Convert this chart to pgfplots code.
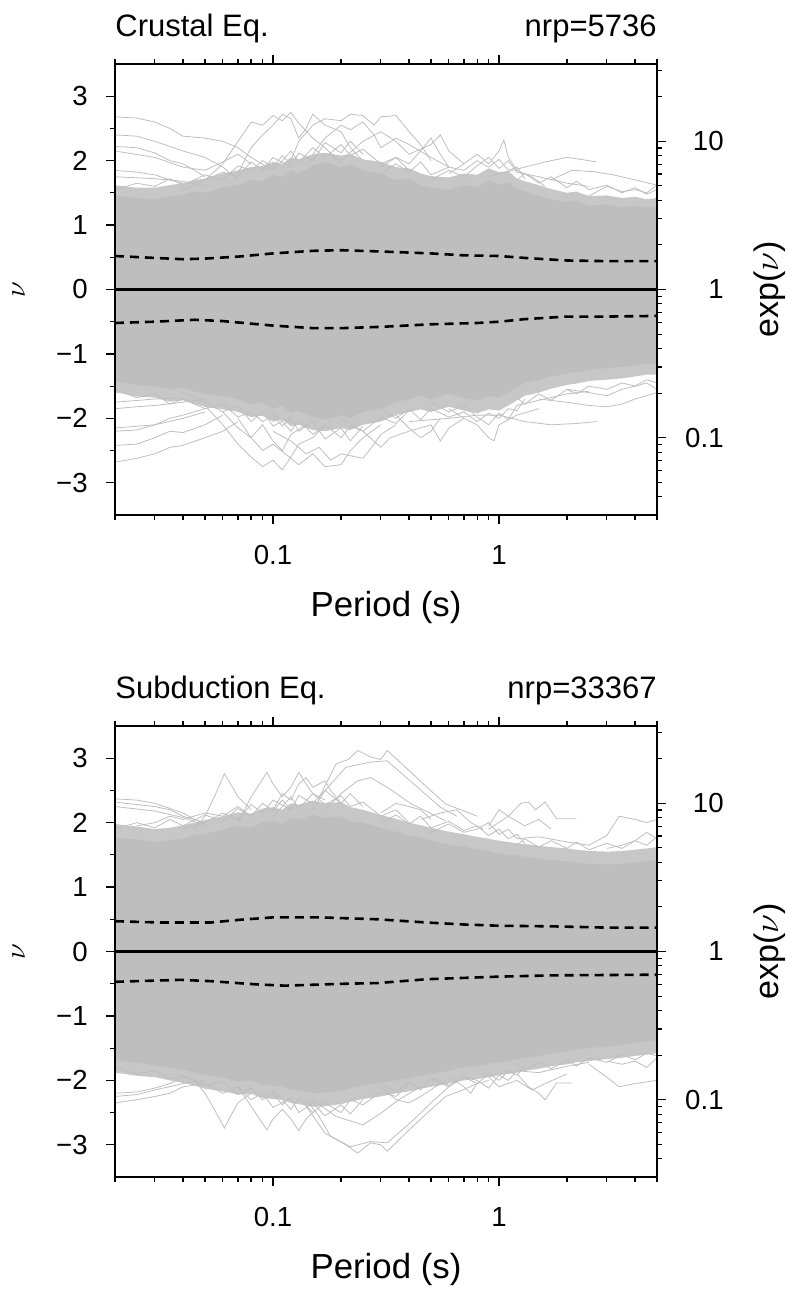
\documentclass[border=0pt]{standalone}
\usepackage{fontspec}
\setmainfont{Liberation Sans}
\usepackage{pgfplots}
\usepackage{pgfplotstable}
\pgfplotsset{compat=1.18}
\definecolor{lg}{RGB}{190,190,190}
\definecolor{fr}{RGB}{199,199,199}

\pgfplotstableread{
x cu cl fu fl
0.02 1.46 -1.42 1.62 -1.60
0.022 1.44 -1.45 1.60 -1.62
0.025 1.42 -1.48 1.58 -1.66
0.03 1.40 -1.50 1.58 -1.68
0.035 1.45 -1.55 1.62 -1.74
0.04 1.47 -1.52 1.65 -1.72
0.045 1.52 -1.58 1.70 -1.78
0.05 1.50 -1.62 1.72 -1.82
0.06 1.58 -1.65 1.80 -1.86
0.07 1.62 -1.70 1.85 -1.90
0.08 1.70 -1.78 1.90 -1.98
0.09 1.68 -1.75 1.92 -1.96
0.1 1.78 -1.85 1.98 -2.05
0.11 1.74 -1.80 1.95 -2.02
0.12 1.85 -1.92 2.05 -2.12
0.13 1.80 -1.88 2.02 -2.10
0.15 1.92 -1.98 2.10 -2.18
0.17 1.98 -2.02 2.12 -2.20
0.2 1.90 -1.95 2.08 -2.15
0.22 1.95 -2.00 2.10 -2.18
0.25 1.85 -1.90 2.02 -2.10
0.3 1.80 -1.85 1.98 -2.05
0.35 1.70 -1.75 1.90 -1.95
0.4 1.72 -1.70 1.88 -1.90
0.45 1.62 -1.65 1.80 -1.86
0.5 1.58 -1.70 1.76 -1.90
0.6 1.55 -1.62 1.74 -1.82
0.7 1.62 -1.68 1.80 -1.88
0.8 1.58 -1.72 1.78 -1.92
0.9 1.70 -1.65 1.88 -1.86
1 1.62 -1.68 1.82 -1.88
1.1 1.66 -1.60 1.84 -1.80
1.2 1.55 -1.52 1.72 -1.72
1.3 1.52 -1.45 1.68 -1.65
1.5 1.45 -1.40 1.62 -1.60
1.7 1.40 -1.35 1.56 -1.54
2 1.35 -1.30 1.50 -1.48
2.2 1.38 -1.28 1.52 -1.46
2.5 1.30 -1.25 1.45 -1.42
3 1.32 -1.22 1.46 -1.40
3.5 1.28 -1.20 1.42 -1.38
4 1.30 -1.18 1.44 -1.35
4.5 1.27 -1.15 1.40 -1.32
5 1.30 -1.15 1.42 -1.32
}\topT

\pgfplotstableread{
x cu cl fu fl
0.02 1.78 -1.68 1.98 -1.88
0.022 1.75 -1.71 1.96 -1.90
0.025 1.74 -1.72 1.94 -1.93
0.03 1.70 -1.76 1.90 -1.95
0.035 1.73 -1.80 1.92 -2.00
0.04 1.75 -1.84 1.96 -2.04
0.045 1.81 -1.88 2.00 -2.08
0.05 1.82 -1.92 2.04 -2.13
0.06 1.89 -1.96 2.10 -2.17
0.07 1.95 -2.02 2.16 -2.22
0.08 1.92 -2.00 2.14 -2.21
0.09 2.01 -2.06 2.22 -2.27
0.1 2.02 -2.08 2.24 -2.29
0.11 1.98 -2.10 2.20 -2.30
0.12 2.08 -2.14 2.30 -2.35
0.13 2.05 -2.16 2.28 -2.37
0.15 2.12 -2.20 2.34 -2.41
0.17 2.07 -2.19 2.30 -2.40
0.2 2.10 -2.16 2.32 -2.37
0.22 2.02 -2.12 2.24 -2.33
0.25 2.00 -2.08 2.20 -2.29
0.3 1.92 -2.04 2.12 -2.25
0.35 1.86 -2.00 2.06 -2.20
0.4 1.80 -1.97 2.00 -2.17
0.45 1.77 -1.93 1.96 -2.13
0.5 1.72 -1.90 1.92 -2.10
0.6 1.66 -1.85 1.86 -2.05
0.7 1.63 -1.80 1.82 -2.00
0.8 1.58 -1.78 1.78 -1.98
0.9 1.56 -1.74 1.75 -1.95
1 1.52 -1.72 1.72 -1.92
1.1 1.50 -1.70 1.70 -1.90
1.2 1.49 -1.67 1.68 -1.88
1.3 1.47 -1.65 1.67 -1.85
1.5 1.44 -1.62 1.64 -1.82
1.7 1.42 -1.58 1.62 -1.78
2 1.40 -1.55 1.60 -1.75
2.2 1.38 -1.52 1.58 -1.72
2.5 1.36 -1.50 1.56 -1.70
3 1.35 -1.47 1.55 -1.67
3.5 1.36 -1.45 1.56 -1.65
4 1.38 -1.42 1.58 -1.62
4.5 1.40 -1.40 1.60 -1.60
5 1.42 -1.38 1.62 -1.58
}\botT

\newcommand{\tf}{\fontsize{13.8}{16}\selectfont}
\tikzset{
  grayline/.style={lg, line width=0.4pt},
  zeroline/.style={black, line width=1.3pt},
  dashline/.style={black, line width=1.3pt, dash pattern=on 4.5pt off 3pt},
}

\begin{document}
\begin{tikzpicture}
\useasboundingbox (0,0) rectangle (394pt,645pt);

% ---------------- top panel ----------------
\begin{axis}[
    at={(57.5pt,387.5pt)}, anchor=south west,
    scale only axis, width=271pt, height=225.5pt,
    xmode=log, xmin=0.02, xmax=5, ymin=-3.5, ymax=3.5,
    xtick={0.1,1}, xticklabels={{\tf 0.1},{\tf 1}},
    minor xtick={0.02,0.03,0.04,0.05,0.06,0.07,0.08,0.09,0.2,0.3,0.4,0.5,0.6,0.7,0.8,0.9,2,3,4,5},
    ytick={-3,-2,-1,0,1,2,3}, yticklabels={{\tf −3},{\tf −2},{\tf −1},{\tf 0},{\tf 1},{\tf 2},{\tf 3}},
    minor ytick={-2.5,-1.5,-0.5,0.5,1.5,2.5},
    xtick pos=both, ytick pos=left,
    tick align=outside,
    major tick length=4.5pt, minor tick length=2.5pt,
    tick style={black, line width=0.6pt},
    axis line style={line width=0.6pt},
    xticklabel style={anchor=north, inner sep=0pt, yshift=-10.5pt},
    yticklabel style={anchor=east, inner sep=0pt, xshift=-9pt},
    axis on top,
  ]
\addplot[draw=none, fill=fr] table[x=x,y=fu]{\topT} \closedcycle;
\addplot[draw=none, fill=lg] table[x=x,y=cu]{\topT} \closedcycle;
\addplot[draw=none, fill=fr] table[x=x,y=fl]{\topT} \closedcycle;
\addplot[draw=none, fill=lg] table[x=x,y=cl]{\topT} \closedcycle;
% fringe lines, upper
\addplot[grayline] coordinates {(0.02,1.55)(0.025,1.65)(0.03,1.6)(0.035,1.72)(0.04,1.62)(0.05,1.78)(0.06,1.7)(0.07,1.92)(0.08,1.85)(0.09,2.0)(0.1,1.9)(0.11,2.08)(0.12,1.95)};
\addplot[grayline] coordinates {(0.1,1.85)(0.11,2.0)(0.12,2.15)(0.13,1.98)(0.15,2.2)(0.17,2.05)(0.2,2.25)(0.22,2.08)(0.25,2.18)(0.3,1.95)(0.35,2.05)(0.4,1.85)};
\addplot[grayline] coordinates {(0.3,1.8)(0.35,1.95)(0.4,1.82)(0.45,1.98)(0.5,1.78)(0.6,1.9)(0.7,1.85)(0.8,2.0)(0.9,1.9)(1,2.02)(1.1,1.85)(1.2,1.9)(1.3,1.72)};
\addplot[grayline] coordinates {(1.2,1.7)(1.3,1.8)(1.5,1.65)(1.7,1.75)(2,1.58)(2.2,1.68)(2.5,1.55)(3,1.62)(3.5,1.5)(4,1.58)(4.5,1.48)(5,1.55)};
\addplot[grayline] coordinates {(0.04,1.55)(0.05,1.7)(0.06,1.82)(0.07,1.75)(0.08,1.98)(0.09,1.85)(0.1,2.05)(0.12,1.9)(0.13,2.12)(0.15,2.0)(0.17,2.28)(0.2,2.12)(0.22,2.3)(0.25,2.1)};
\addplot[grayline] coordinates {(0.5,1.7)(0.6,1.85)(0.7,1.75)(0.8,1.92)(0.9,2.05)(1,1.88)(1.1,2.0)(1.2,1.82)(1.5,1.75)(2,1.65)(2.5,1.6)};
% upper outliers
\addplot[grayline] coordinates {(0.02,2.68)(0.025,2.66)(0.03,2.6)(0.035,2.5)(0.04,2.38)(0.05,2.35)(0.06,2.30)(0.07,2.2)(0.08,2.05)(0.1,1.85)};
\addplot[grayline] coordinates {(0.02,2.40)(0.025,2.38)(0.03,2.3)(0.04,2.15)(0.05,2.05)(0.06,1.9)(0.07,1.7)};
\addplot[grayline] coordinates {(0.02,2.22)(0.025,2.2)(0.03,2.12)(0.035,2.0)(0.04,1.95)(0.045,1.85)(0.05,1.75)};
\addplot[grayline] coordinates {(0.02,2.15)(0.03,2.05)(0.04,1.9)(0.05,1.85)(0.06,1.98)(0.07,2.1)(0.08,1.95)};
\addplot[grayline] coordinates {(0.05,1.7)(0.06,1.95)(0.07,2.3)(0.075,2.45)(0.08,2.6)(0.09,2.55)(0.1,2.7)(0.11,2.62)(0.12,2.75)(0.13,2.58)(0.15,2.35)(0.17,2.2)(0.2,1.95)};
\addplot[grayline] coordinates {(0.07,1.8)(0.08,2.2)(0.09,2.4)(0.1,2.55)(0.11,2.72)(0.12,2.65)(0.13,2.35)(0.14,2.5)(0.15,2.72)(0.17,2.55)(0.2,2.45)(0.22,2.2)(0.25,2.0)};
\addplot[grayline] coordinates {(0.12,2.0)(0.13,2.3)(0.15,2.55)(0.17,2.65)(0.2,2.62)(0.22,2.72)(0.25,2.70)(0.28,2.55)(0.3,2.68)(0.35,2.7)(0.4,2.45)(0.45,2.25)(0.5,2.0)};
\addplot[grayline] coordinates {(0.15,2.1)(0.17,2.35)(0.2,2.55)(0.22,2.48)(0.25,2.6)(0.28,2.4)(0.3,2.2)(0.35,2.35)(0.4,2.25)(0.5,2.05)(0.6,1.9)};
\addplot[grayline] coordinates {(0.2,2.0)(0.25,2.3)(0.3,2.45)(0.35,2.3)(0.4,2.1)(0.5,2.25)(0.55,2.4)(0.6,2.15)(0.7,1.95)};
\addplot[grayline] coordinates {(0.6,1.8)(0.7,1.95)(0.8,2.1)(0.9,1.95)(1,2.15)(1.05,2.32)(1.1,2.05)(1.2,1.85)(1.4,1.75)(1.6,1.6)};
\addplot[grayline] coordinates {(0.9,1.75)(1.3,1.9)(1.6,1.98)(2.0,2.05)(2.3,2.02)(2.7,1.98)};
\addplot[grayline] coordinates {(1.7,1.7)(2.1,1.85)(2.6,1.83)(3.2,1.78)(4,1.7)(5,1.62)};
\addplot[grayline] coordinates {(2.5,1.45)(3,1.6)(3.5,1.52)(4,1.55)(4.5,1.5)(5,1.62)};
\addplot[grayline] coordinates {(0.3,1.9)(0.35,2.05)(0.4,1.95)(0.45,2.15)(0.5,2.35)(0.55,2.1)(0.6,1.9)};
\addplot[grayline] coordinates {(0.02,1.85)(0.025,1.82)(0.03,1.78)(0.035,1.70)(0.04,1.65)};
\addplot[grayline] coordinates {(0.02,1.75)(0.03,1.72)(0.04,1.68)(0.05,1.6)};
% fringe lines, lower
\addplot[grayline] coordinates {(0.02,-1.55)(0.025,-1.68)(0.03,-1.62)(0.035,-1.78)(0.04,-1.7)(0.05,-1.85)(0.06,-1.78)(0.07,-1.98)(0.08,-1.9)(0.09,-2.05)(0.1,-1.95)(0.11,-2.12)(0.12,-2.0)};
\addplot[grayline] coordinates {(0.1,-1.9)(0.11,-2.05)(0.12,-2.2)(0.13,-2.02)(0.15,-2.25)(0.17,-2.1)(0.2,-2.3)(0.22,-2.12)(0.25,-2.2)(0.3,-1.98)(0.35,-2.08)(0.4,-1.88)};
\addplot[grayline] coordinates {(0.3,-1.85)(0.35,-2.0)(0.4,-1.85)(0.45,-2.02)(0.5,-1.85)(0.6,-1.98)(0.7,-1.9)(0.8,-2.05)(0.9,-1.92)(1,-2.0)(1.1,-1.85)(1.2,-1.88)(1.3,-1.7)};
\addplot[grayline] coordinates {(1.2,-1.68)(1.3,-1.78)(1.5,-1.62)(1.7,-1.72)(2,-1.55)(2.2,-1.62)(2.5,-1.5)(3,-1.55)(3.5,-1.45)(4,-1.5)(4.5,-1.4)(5,-1.45)};
\addplot[grayline] coordinates {(0.04,-1.6)(0.05,-1.75)(0.06,-1.9)(0.07,-1.8)(0.08,-2.05)(0.09,-1.9)(0.1,-2.12)(0.12,-1.98)(0.13,-2.2)(0.15,-2.05)(0.17,-2.32)(0.2,-2.15)(0.22,-2.35)(0.25,-2.12)};
\addplot[grayline] coordinates {(0.5,-1.75)(0.6,-1.9)(0.7,-1.8)(0.8,-1.98)(0.9,-2.1)(1,-1.92)(1.1,-2.02)(1.2,-1.8)(1.5,-1.72)(2,-1.62)(2.5,-1.58)};
% lower outliers
\addplot[grayline] coordinates {(0.02,-2.68)(0.025,-2.62)(0.03,-2.55)(0.035,-2.45)(0.04,-2.42)(0.05,-2.3)(0.06,-2.2)(0.07,-2.05)};
\addplot[grayline] coordinates {(0.02,-2.42)(0.025,-2.40)(0.03,-2.3)(0.035,-2.2)(0.04,-2.22)(0.05,-2.1)(0.06,-1.95)};
\addplot[grayline] coordinates {(0.02,-2.2)(0.025,-2.18)(0.03,-2.1)(0.04,-2.0)(0.05,-1.9)};
\addplot[grayline] coordinates {(0.02,-2.15)(0.03,-2.1)(0.035,-2.0)(0.04,-1.95)(0.05,-1.85)};
\addplot[grayline] coordinates {(0.05,-1.8)(0.06,-2.1)(0.07,-2.4)(0.08,-2.6)(0.09,-2.75)(0.1,-2.65)(0.11,-2.8)(0.12,-2.6)(0.13,-2.4)(0.15,-2.3)(0.17,-2.1)};
\addplot[grayline] coordinates {(0.07,-2.0)(0.08,-2.3)(0.09,-2.5)(0.1,-2.4)(0.12,-2.62)(0.13,-2.72)(0.15,-2.55)(0.17,-2.75)(0.2,-2.72)(0.22,-2.5)(0.25,-2.3)(0.3,-2.1)};
\addplot[grayline] coordinates {(0.1,-2.2)(0.12,-2.35)(0.14,-2.55)(0.16,-2.45)(0.18,-2.65)(0.2,-2.55)(0.25,-2.62)(0.28,-2.4)(0.3,-2.25)(0.35,-2.1)};
\addplot[grayline] coordinates {(0.06,-1.9)(0.07,-2.15)(0.08,-2.3)(0.09,-2.1)(0.1,-2.35)(0.11,-2.5)(0.12,-2.25)(0.14,-2.1)};
\addplot[grayline] coordinates {(0.2,-2.0)(0.25,-2.2)(0.3,-2.45)(0.33,-2.3)(0.4,-2.2)(0.5,-2.1)(0.55,-2.35)(0.6,-2.15)(0.7,-2.0)};
\addplot[grayline] coordinates {(0.6,-1.85)(0.7,-2.0)(0.8,-2.1)(0.9,-2.3)(0.95,-2.35)(1.0,-2.1)(1.2,-1.95)(1.5,-1.85)};
\addplot[grayline] coordinates {(0.4,-2.05)(0.6,-2.0)(0.8,-1.95)(1.0,-1.95)(1.3,-2.05)(1.7,-2.1)(2.2,-2.08)(2.7,-2.05)};
\addplot[grayline] coordinates {(1.5,-1.7)(2,-1.75)(2.5,-1.8)(3,-1.82)(3.5,-1.78)(4,-1.7)(5,-1.6)};
\addplot[grayline] coordinates {(2,-1.55)(2.5,-1.6)(3,-1.65)(3.5,-1.55)(4,-1.5)(4.5,-1.45)(5,-1.55)};
\addplot[grayline] coordinates {(0.35,-1.95)(0.4,-2.15)(0.45,-2.3)(0.5,-2.2)(0.55,-2.0)};
\addplot[grayline] coordinates {(0.02,-1.85)(0.025,-1.82)(0.03,-1.8)(0.04,-1.75)(0.05,-1.7)};
\addplot[grayline] coordinates {(0.02,-1.75)(0.03,-1.7)(0.04,-1.68)};
% reference lines
\addplot[zeroline] coordinates {(0.02,0)(5,0)};
\addplot[dashline] coordinates {(0.02,0.52)(0.03,0.49)(0.04,0.47)(0.05,0.48)(0.07,0.51)(0.1,0.56)(0.15,0.60)(0.2,0.61)(0.3,0.59)(0.5,0.56)(0.7,0.53)(1,0.52)(1.3,0.49)(2,0.45)(3,0.44)(5,0.44)};
\addplot[dashline] coordinates {(0.02,-0.52)(0.03,-0.50)(0.045,-0.47)(0.06,-0.49)(0.08,-0.53)(0.1,-0.56)(0.15,-0.60)(0.2,-0.60)(0.3,-0.58)(0.5,-0.54)(0.8,-0.52)(1,-0.50)(1.3,-0.46)(2,-0.42)(3,-0.42)(5,-0.41)};
\end{axis}
\begin{axis}[
    at={(57.5pt,387.5pt)}, anchor=south west,
    scale only axis, width=271pt, height=225.5pt,
    xmin=0, xmax=1, ymin=-3.5, ymax=3.5,
    axis x line=none, axis y line*=right,
    ytick={-2.302585,0,2.302585}, yticklabels={{\tf 0.1},{\tf 1},{\tf 10}},
    minor ytick={-3.218876,-2.995732,-2.813411,-2.659260,-2.525729,-2.407946,-1.609438,-1.203973,-0.916291,-0.693147,-0.510826,-0.356675,-0.223144,-0.105361,0.693147,1.098612,1.386294,1.609438,1.791759,1.945910,2.079442,2.197225,2.995732,3.401197},
    tick align=outside,
    major tick length=4.5pt, minor tick length=2.5pt,
    tick style={black, line width=0.6pt},
    axis line style={line width=0.6pt},
    yticklabel style={anchor=east, inner sep=0pt, xshift=29pt},
  ]
\end{axis}

% ---------------- bottom panel ----------------
\begin{axis}[
    at={(57.5pt,56.5pt)}, anchor=south west,
    scale only axis, width=271pt, height=225.5pt,
    xmode=log, xmin=0.02, xmax=5, ymin=-3.5, ymax=3.5,
    xtick={0.1,1}, xticklabels={{\tf 0.1},{\tf 1}},
    minor xtick={0.02,0.03,0.04,0.05,0.06,0.07,0.08,0.09,0.2,0.3,0.4,0.5,0.6,0.7,0.8,0.9,2,3,4,5},
    ytick={-3,-2,-1,0,1,2,3}, yticklabels={{\tf −3},{\tf −2},{\tf −1},{\tf 0},{\tf 1},{\tf 2},{\tf 3}},
    minor ytick={-2.5,-1.5,-0.5,0.5,1.5,2.5},
    xtick pos=both, ytick pos=left,
    tick align=outside,
    major tick length=4.5pt, minor tick length=2.5pt,
    tick style={black, line width=0.6pt},
    axis line style={line width=0.6pt},
    xticklabel style={anchor=north, inner sep=0pt, yshift=-10.5pt},
    yticklabel style={anchor=east, inner sep=0pt, xshift=-9pt},
    axis on top,
  ]
\addplot[draw=none, fill=fr] table[x=x,y=fu]{\botT} \closedcycle;
\addplot[draw=none, fill=lg] table[x=x,y=cu]{\botT} \closedcycle;
\addplot[draw=none, fill=fr] table[x=x,y=fl]{\botT} \closedcycle;
\addplot[draw=none, fill=lg] table[x=x,y=cl]{\botT} \closedcycle;
% fringe lines, upper
\addplot[grayline] coordinates {(0.02,1.9)(0.025,2.0)(0.03,1.92)(0.035,2.05)(0.04,1.95)(0.05,2.12)(0.06,2.02)(0.07,2.22)(0.08,2.1)(0.09,2.3)(0.1,2.18)(0.11,2.35)(0.12,2.2)};
\addplot[grayline] coordinates {(0.1,2.1)(0.11,2.25)(0.12,2.4)(0.13,2.22)(0.15,2.45)(0.17,2.28)(0.2,2.42)(0.22,2.25)(0.25,2.32)(0.3,2.1)(0.35,2.2)(0.4,2.0)};
\addplot[grayline] coordinates {(0.3,2.0)(0.35,2.12)(0.4,1.98)(0.45,2.1)(0.5,1.92)(0.6,2.02)(0.7,1.88)(0.8,1.95)(0.9,1.8)(1,1.9)(1.1,1.75)(1.2,1.82)(1.3,1.68)};
\addplot[grayline] coordinates {(1.2,1.65)(1.3,1.75)(1.5,1.62)(1.7,1.72)(2,1.6)(2.2,1.7)(2.5,1.58)(3,1.68)(3.5,1.6)(4,1.72)(4.5,1.65)(5,1.78)};
\addplot[grayline] coordinates {(0.04,1.9)(0.05,2.0)(0.06,2.15)(0.07,2.05)(0.08,2.28)(0.09,2.15)(0.1,2.35)(0.12,2.2)(0.13,2.42)(0.15,2.3)(0.17,2.5)(0.2,2.3)(0.22,2.45)(0.25,2.25)};
\addplot[grayline] coordinates {(0.5,1.85)(0.6,1.98)(0.7,1.85)(0.8,1.9)(0.9,2.0)(1,1.82)(1.1,1.9)(1.2,1.75)(1.5,1.78)(2,1.7)(2.5,1.65)};
% upper outliers
\addplot[grayline] coordinates {(0.02,2.37)(0.025,2.35)(0.03,2.3)(0.035,2.22)(0.04,2.15)(0.045,2.05)(0.05,1.98)};
\addplot[grayline] coordinates {(0.02,2.32)(0.025,2.28)(0.03,2.25)(0.035,2.2)(0.04,2.1)(0.05,2.0)};
\addplot[grayline] coordinates {(0.02,2.25)(0.03,2.18)(0.04,2.08)(0.05,1.95)};
\addplot[grayline] coordinates {(0.045,1.9)(0.05,2.1)(0.055,2.4)(0.061,2.76)(0.065,2.6)(0.07,2.4)(0.075,2.3)(0.08,2.2)};
\addplot[grayline] coordinates {(0.07,2.0)(0.08,2.4)(0.094,2.78)(0.1,2.6)(0.11,2.4)(0.12,2.55)(0.13,2.78)(0.14,2.6)(0.15,2.45)(0.17,2.35)};
\addplot[grayline] coordinates {(0.16,2.39)(0.19,2.91)(0.215,2.98)(0.237,3.12)(0.27,3.02)(0.30,2.98)(0.32,3.12)(0.40,2.81)(0.48,2.55)(0.58,2.29)(0.69,2.19)(0.8,2.1)};
\addplot[grayline] coordinates {(0.15,2.2)(0.17,2.5)(0.21,2.86)(0.27,2.94)(0.32,2.96)(0.42,2.6)(0.55,2.24)(0.65,2.1)};
\addplot[grayline] coordinates {(0.17,2.2)(0.2,2.45)(0.237,2.65)(0.27,2.7)(0.32,2.55)(0.41,2.29)(0.58,2.03)};
\addplot[grayline] coordinates {(0.1,2.2)(0.11,2.45)(0.12,2.35)(0.13,2.6)(0.14,2.7)(0.15,2.55)(0.17,2.65)(0.18,2.5)(0.2,2.3)};
\addplot[grayline] coordinates {(0.9,1.9)(1.1,2.1)(1.25,2.3)(1.35,2.32)(1.45,2.2)(1.6,2.32)(1.8,2.06)(2.2,2.06)};
\addplot[grayline] coordinates {(0.9,1.95)(1.0,2.2)(1.1,2.1)(1.3,1.95)(1.5,2.05)(1.7,1.9)};
\addplot[grayline] coordinates {(0.45,2.05)(0.55,2.15)(0.65,2.2)(0.75,2.0)(0.85,1.9)};
\addplot[grayline] coordinates {(2.5,1.65)(3.0,1.8)(3.4,2.1)(4,2.05)(4.5,2.0)(5,2.05)};
\addplot[grayline] coordinates {(3,1.6)(3.5,1.65)(4,1.72)(4.5,1.85)(5,1.75)};
\addplot[grayline] coordinates {(0.3,2.15)(0.35,2.3)(0.4,2.25)(0.45,2.2)(0.5,2.05)};
\addplot[grayline] coordinates {(0.025,1.95)(0.03,2.0)(0.035,2.1)(0.04,2.05)(0.05,2.15)(0.06,2.1)(0.07,2.25)(0.08,2.1)};
% fringe lines, lower
\addplot[grayline] coordinates {(0.02,-1.8)(0.025,-1.9)(0.03,-1.85)(0.035,-1.98)(0.04,-1.92)(0.05,-2.08)(0.06,-2.02)(0.07,-2.22)(0.08,-2.12)(0.09,-2.3)(0.1,-2.2)(0.11,-2.38)(0.12,-2.25)};
\addplot[grayline] coordinates {(0.1,-2.15)(0.11,-2.3)(0.12,-2.45)(0.13,-2.28)(0.15,-2.5)(0.17,-2.35)(0.2,-2.5)(0.22,-2.3)(0.25,-2.38)(0.3,-2.18)(0.35,-2.25)(0.4,-2.05)};
\addplot[grayline] coordinates {(0.3,-2.05)(0.35,-2.18)(0.4,-2.02)(0.45,-2.15)(0.5,-1.98)(0.6,-2.1)(0.7,-1.95)(0.8,-2.05)(0.9,-1.9)(1,-2.0)(1.1,-1.85)(1.2,-1.92)(1.3,-1.78)};
\addplot[grayline] coordinates {(1.2,-1.75)(1.3,-1.85)(1.5,-1.72)(1.7,-1.82)(2,-1.68)(2.2,-1.78)(2.5,-1.65)(3,-1.72)(3.5,-1.6)(4,-1.68)(4.5,-1.58)(5,-1.62)};
\addplot[grayline] coordinates {(0.04,-1.95)(0.05,-2.05)(0.06,-2.2)(0.07,-2.1)(0.08,-2.3)(0.09,-2.2)(0.1,-2.42)(0.12,-2.28)(0.13,-2.5)(0.15,-2.35)(0.17,-2.55)(0.2,-2.38)(0.22,-2.52)(0.25,-2.3)};
\addplot[grayline] coordinates {(0.5,-1.95)(0.6,-2.08)(0.7,-1.95)(0.8,-2.0)(0.9,-2.12)(1,-1.92)(1.1,-2.0)(1.2,-1.85)(1.5,-1.88)(2,-1.78)(2.5,-1.72)};
% lower outliers
\addplot[grayline] coordinates {(0.02,-2.2)(0.025,-2.18)(0.03,-2.12)(0.035,-2.05)(0.04,-1.95)};
\addplot[grayline] coordinates {(0.02,-2.25)(0.025,-2.22)(0.03,-2.15)(0.04,-2.05)(0.05,-2.0)};
\addplot[grayline] coordinates {(0.02,-2.35)(0.025,-2.3)(0.03,-2.25)(0.035,-2.2)(0.04,-2.1)(0.05,-2.05)};
\addplot[grayline] coordinates {(0.045,-2.0)(0.05,-2.2)(0.055,-2.45)(0.061,-2.74)(0.065,-2.55)(0.07,-2.35)(0.08,-2.2)};
\addplot[grayline] coordinates {(0.07,-2.1)(0.08,-2.4)(0.094,-2.77)(0.1,-2.6)(0.11,-2.45)(0.12,-2.6)(0.13,-2.78)(0.14,-2.6)(0.15,-2.5)};
\addplot[grayline] coordinates {(0.14,-2.3)(0.16,-2.56)(0.18,-2.87)(0.21,-3.0)(0.237,-3.13)(0.27,-2.97)(0.30,-3.0)(0.32,-3.1)(0.40,-2.77)(0.48,-2.51)(0.58,-2.25)(0.69,-2.15)(0.8,-2.05)};
\addplot[grayline] coordinates {(0.14,-2.4)(0.17,-2.82)(0.22,-3.03)(0.27,-2.95)(0.32,-2.97)(0.42,-2.61)(0.5,-2.35)(0.6,-2.1)};
\addplot[grayline] coordinates {(0.15,-2.3)(0.19,-2.56)(0.25,-2.69)(0.3,-2.51)(0.36,-2.3)(0.45,-2.1)};
\addplot[grayline] coordinates {(0.3,-2.1)(0.35,-2.3)(0.4,-2.35)(0.45,-2.25)(0.55,-2.05)};
\addplot[grayline] coordinates {(1.2,-1.9)(1.35,-2.1)(1.5,-2.2)(1.6,-2.3)(1.8,-2.04)(2.1,-2.04)};
\addplot[grayline] coordinates {(0.9,-1.95)(1.0,-2.1)(1.2,-2.0)(1.4,-2.15)(1.6,-2.05)(2.0,-1.9)};
\addplot[grayline] coordinates {(2.5,-1.75)(3,-1.95)(3.4,-2.1)(4,-2.05)(5,-2.0)};
\addplot[grayline] coordinates {(3,-1.7)(3.5,-1.75)(4,-1.7)(4.5,-1.8)(5,-1.65)};
\addplot[grayline] coordinates {(0.6,-1.95)(0.7,-2.1)(0.75,-2.2)(0.8,-2.05)(0.9,-2.0)};
% reference lines
\addplot[zeroline] coordinates {(0.02,0)(5,0)};
\addplot[dashline] coordinates {(0.02,0.47)(0.032,0.45)(0.053,0.45)(0.07,0.49)(0.1,0.53)(0.16,0.53)(0.29,0.50)(0.48,0.45)(0.69,0.42)(1,0.40)(1.75,0.39)(3.06,0.37)(5,0.37)};
\addplot[dashline] coordinates {(0.02,-0.47)(0.039,-0.44)(0.053,-0.46)(0.084,-0.51)(0.113,-0.53)(0.21,-0.50)(0.29,-0.49)(0.48,-0.43)(1,-0.39)(1.75,-0.37)(5,-0.36)};
\end{axis}
\begin{axis}[
    at={(57.5pt,56.5pt)}, anchor=south west,
    scale only axis, width=271pt, height=225.5pt,
    xmin=0, xmax=1, ymin=-3.5, ymax=3.5,
    axis x line=none, axis y line*=right,
    ytick={-2.302585,0,2.302585}, yticklabels={{\tf 0.1},{\tf 1},{\tf 10}},
    minor ytick={-3.218876,-2.995732,-2.813411,-2.659260,-2.525729,-2.407946,-1.609438,-1.203973,-0.916291,-0.693147,-0.510826,-0.356675,-0.223144,-0.105361,0.693147,1.098612,1.386294,1.609438,1.791759,1.945910,2.079442,2.197225,2.995732,3.401197},
    tick align=outside,
    major tick length=4.5pt, minor tick length=2.5pt,
    tick style={black, line width=0.6pt},
    axis line style={line width=0.6pt},
    yticklabel style={anchor=east, inner sep=0pt, xshift=29pt},
  ]
\end{axis}

% ---------------- texts ----------------
\node[inner sep=0pt, anchor=base west, font=\fontsize{15.5}{18}\selectfont] at (57.5pt,626.5pt) {Crustal Eq.};
\node[inner sep=0pt, anchor=base east, font=\fontsize{15.5}{18}\selectfont] at (328.5pt,626.5pt) {nrp=5736};
\node[inner sep=0pt, anchor=base west, font=\fontsize{15.5}{18}\selectfont] at (57.5pt,295.5pt) {Subduction Eq.};
\node[inner sep=0pt, anchor=base east, font=\fontsize{15.5}{18}\selectfont] at (328.5pt,295.5pt) {nrp=33367};
\node[inner sep=0pt, anchor=base, font=\fontsize{17.4}{20}\selectfont] at (193pt,336.5pt) {Period (s)};
\node[inner sep=0pt, anchor=base, font=\fontsize{17.4}{20}\selectfont] at (193pt,5.5pt) {Period (s)};
\node[inner sep=0pt, rotate=90, anchor=base, font=\fontsize{14}{16}\selectfont] at (12.5pt,500.35pt) {$\nu$};
\node[inner sep=0pt, rotate=90, anchor=base, font=\fontsize{14}{16}\selectfont] at (12.5pt,169.25pt) {$\nu$};
\node[inner sep=0pt, rotate=90, anchor=base, font=\fontsize{17}{20}\selectfont] at (389pt,500.35pt) {exp($\nu$)};
\node[inner sep=0pt, rotate=90, anchor=base, font=\fontsize{17}{20}\selectfont] at (389pt,169.25pt) {exp($\nu$)};
\end{tikzpicture}
\end{document}
